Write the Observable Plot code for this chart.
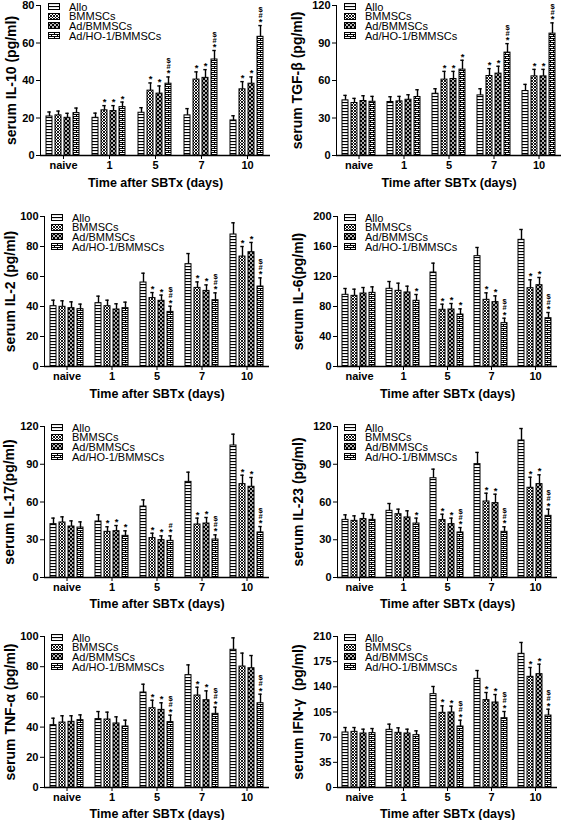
<!DOCTYPE html>
<html><head><meta charset="utf-8">
<script src="https://cdn.jsdelivr.net/npm/d3@7"></script>
<script src="https://cdn.jsdelivr.net/npm/@observablehq/plot@0.6"></script>
<style>
body{margin:0;background:#fff;}
#root{position:relative;width:567px;height:820px;overflow:hidden;font-family:"Liberation Sans",Arial,sans-serif;}
.panel{position:absolute;}
.legend{position:absolute;font-size:11px;color:#000;font-family:"Liberation Sans",Arial,sans-serif;}
.legend .row{display:flex;align-items:center;height:9.6px;white-space:nowrap;}
.legend svg{margin-right:9px;flex:none;}
</style></head><body>
<svg width="0" height="0" style="position:absolute">
<defs>
<pattern id="pAllo" width="3" height="3" patternUnits="userSpaceOnUse"><rect width="3" height="3" fill="#fff"/><rect y="0" width="3" height="1.1" fill="#000"/></pattern>
<pattern id="pBM" width="3" height="3" patternUnits="userSpaceOnUse"><rect width="3" height="3" fill="#fff"/><path d="M0,0L3,3M3,0L0,3" stroke="#000" stroke-width="0.9"/></pattern>
<pattern id="pAd" width="4" height="4" patternUnits="userSpaceOnUse"><rect width="4" height="4" fill="#000"/><circle cx="1" cy="1" r="0.95" fill="#fff"/><circle cx="3" cy="3" r="0.95" fill="#fff"/></pattern>
<pattern id="pHO" width="6" height="4" patternUnits="userSpaceOnUse"><rect width="6" height="4" fill="#fff"/><path d="M0,0.5H6M0,2.5H6M0.5,0.5V2.5M3.5,2.5V4.5" stroke="#000" stroke-width="1"/></pattern>
</defs></svg>
<div id="root"></div>
<script>
// ---- categories ----
const days = ["naive", "1", "5", "7", "10"];
const groups = ["Allo", "BMMSCs", "Ad/BMMSCs", "Ad/HO-1/BMMSCs"];
const xTitle = "Time after SBTx (days)";

// ---- IL-10 ----
const il10Mean = [[20.8,21.4,20.1,22.6],[20.1,24.1,23.7,25.8],[22.8,34.6,33.0,38.3],[21.4,40.5,41.4,51.2],[18.7,35.3,38.3,63.3]];
const il10Err  = [[2.4,2.3,2.4,2.7],[2.5,2.5,2.9,2.7],[2.7,4.1,4.1,3.6],[3.6,4.1,4.4,4.8],[2.5,4.1,3.6,6.0]];
const il10Sig  = [["","","",""],["","*","*","*"],["","*","*","*#$"],["","*","*","*#$"],["","*","*","*#$"]];
const il10Ticks = [0,20,40,60,80];

// ---- TGF-beta ----
const tgfMean = [[44.1,42.0,43.6,43.0],[42.8,43.3,44.6,46.8],[49.4,60.7,61.2,68.7],[48.1,63.6,65.5,82.3],[51.6,63.3,63.3,97.5]];
const tgfErr  = [[4.0,3.7,4.2,4.3],[4.2,4.0,4.0,5.8],[4.0,6.6,6.1,7.5],[5.3,5.9,5.9,7.2],[5.3,5.6,5.6,8.6]];
const tgfSig  = [["","","",""],["","","",""],["","*","*","*"],["","*","*","*#$"],["","*","*","*#$"]];
const tgfTicks = [0,30,60,90,120];

// ---- IL-2 ----
const il2Mean = [[40.2,39.8,38.9,38.2],[42.2,40.2,38.0,38.9],[56.0,45.6,43.8,36.4],[68.2,52.4,50.4,44.2],[88.0,73.3,76.2,53.3]];
const il2Err  = [[4.0,4.0,4.2,3.4],[4.7,4.0,3.8,4.0],[6.2,3.7,3.8,3.8],[7.1,4.0,4.0,4.9],[7.8,6.7,6.5,5.8]];
const il2Sig  = [["","","",""],["","","",""],["","*","*","*#$"],["","*","*","*#$"],["","*","*","*#$"]];
const il2Ticks = [0,20,40,60,80,100];

// ---- IL-6 ----
const il6Mean = [[95.6,94.2,97.3,98.2],[103.6,100.9,98.7,87.6],[125.3,75.6,76.0,69.3],[147.1,88.9,85.8,57.8],[168.9,104.4,108.4,64.4]];
const il6Err  = [[8.4,8.9,8.0,8.0],[9.7,10.2,8.4,8.4],[12.5,7.5,8.0,7.6],[11.6,9.3,8.4,6.6],[13.8,11.2,10.3,7.6]];
const il6Sig  = [["","","",""],["","","","*"],["","*","*","*"],["","*","*","*#$"],["","*","*","*#$"]];
const il6Ticks = [0,40,80,120,160,200];

// ---- IL-17 ----
const il17Mean = [[42.4,43.7,40.5,39.7],[44.5,36.3,36.8,33.1],[56.4,31.3,29.7,29.1],[76.0,42.1,42.9,30.2],[104.9,74.2,72.1,35.8]];
const il17Err  = [[4.8,4.5,4.5,4.5],[5.3,4.0,4.5,4.0],[5.3,3.9,3.4,4.0],[7.7,5.1,4.8,3.7],[9.0,7.1,7.4,4.7]];
const il17Sig  = [["","","",""],["","*","*","*"],["","*","*","*#"],["","*","*","*#$"],["","*","*","*#$"]];
const il17Ticks = [0,30,60,90,120];

// ---- IL-23 ----
const il23Mean = [[45.8,45.0,46.4,45.8],[53.0,50.3,47.7,42.9],[78.9,45.6,42.4,35.8],[90.1,60.4,59.1,36.3],[108.9,71.3,74.2,49.0]];
const il23Err  = [[4.0,4.0,4.5,4.2],[5.8,4.0,5.3,4.3],[7.2,4.7,4.8,3.9],[9.3,6.6,7.1,4.0],[9.5,8.4,7.4,5.3]];
const il23Sig  = [["","","",""],["","","","*"],["","*","*","*#$"],["","*","*","*#$"],["","*","*","*#$"]];
const il23Ticks = [0,30,60,90,120];

// ---- TNF-alpha ----
const tnfMean = [[41.3,43.0,43.5,44.6],[45.3,45.0,42.4,40.4],[62.9,52.5,51.4,43.3],[74.4,60.9,57.8,48.8],[91.2,80.1,79.0,55.8]];
const tnfErr  = [[4.6,4.5,4.0,3.5],[5.0,4.9,4.4,4.2],[5.5,5.3,4.7,4.6],[6.8,5.5,6.2,4.4],[7.9,8.9,8.4,6.0]];
const tnfSig  = [["","","",""],["","","",""],["","*","*","*#$"],["","*","*","*#$"],["","","","*#$"]];
const tnfTicks = [0,20,40,60,80,100];

// ---- IFN-gamma ----
const ifnMean = [[76.5,77.4,75.1,75.6],[80.2,76.0,75.1,72.8],[129.8,103.8,104.3,84.8],[151.1,121.5,118.2,96.4],[185.9,153.9,157.6,100.1]];
const ifnErr  = [[6.9,6.0,6.0,6.4],[7.9,7.0,6.0,6.0],[10.7,9.8,8.8,8.8],[11.6,10.6,11.1,9.3],[15.8,13.0,13.9,8.8]];
const ifnSig  = [["","","",""],["","","",""],["","*","*","*#$"],["","*","*","*#$"],["","*","*","*#$"]];
const ifnTicks = [0,35,70,105,140,175,210];

// ---- fills per group ----
const fills = {"Allo":"url(#pAllo)","BMMSCs":"url(#pBM)","Ad/BMMSCs":"url(#pAd)","Ad/HO-1/BMMSCs":"url(#pHO)"};

// ---- panel layout ----
const panels = [
  {mean:il10Mean, err:il10Err, sig:il10Sig, ticks:il10Ticks, label:"serum IL-10 (pg/ml)", left:0, top:0, w:283, h:200, ml:39, mr:12, mt:5, mb:45, lo:34, xo:31},
  {mean:tgfMean, err:tgfErr, sig:tgfSig, ticks:tgfTicks, label:"serum TGF-β (pg/ml)", left:285, top:0, w:282, h:200, ml:50, mr:5, mt:5, mb:45, lo:44, xo:31},
  {mean:il2Mean, err:il2Err, sig:il2Sig, ticks:il2Ticks, label:"serum IL-2 (pg/ml)", left:0, top:200, w:283, h:210, ml:42, mr:13, mt:16, mb:44, lo:39, xo:31},
  {mean:il6Mean, err:il6Err, sig:il6Sig, ticks:il6Ticks, label:"serum IL-6(pg/ml)", left:285, top:200, w:282, h:210, ml:50, mr:9, mt:16, mb:44, lo:44, xo:31},
  {mean:il17Mean, err:il17Err, sig:il17Sig, ticks:il17Ticks, label:"serum IL-17(pg/ml)", left:0, top:410, w:283, h:210, ml:42, mr:13, mt:16, mb:43, lo:40, xo:30},
  {mean:il23Mean, err:il23Err, sig:il23Sig, ticks:il23Ticks, label:"serum IL-23 (pg/ml)", left:285, top:410, w:282, h:210, ml:50, mr:9, mt:16, mb:43, lo:44, xo:30},
  {mean:tnfMean, err:tnfErr, sig:tnfSig, ticks:tnfTicks, label:"serum TNF-α (pg/ml)", left:0, top:620, w:283, h:200, ml:42, mr:13, mt:16, mb:33, lo:39, xo:30},
  {mean:ifnMean, err:ifnErr, sig:ifnSig, ticks:ifnTicks, label:"serum IFN-γ  (pg/ml)", left:285, top:620, w:282, h:200, ml:50, mr:9, mt:16, mb:33, lo:44, xo:30}
];

const root = document.getElementById("root");

function makePanel(p) {
  const data = [];
  days.forEach((d, i) => groups.forEach((g, j) => data.push({day: d, group: g, value: p.mean[i][j], err: p.err[i][j], sig: p.sig[i][j]})));
  const ymax = p.ticks[p.ticks.length - 1];
  const top = d => d.value + d.err;
  const sigDy = [-0.5, -8, -14];
  const sigMark = (k) => Plot.text(data.filter(d => d.sig.length > k), {
    fx: "day", x: "group", y: top, text: d => d.sig[k],
    lineAnchor: "bottom", dy: sigDy[k], fontSize: k === 0 ? 9.5 : 7.5, fill: "#000"
  });
  const chart = Plot.plot({
    width: p.w, height: p.h,
    marginLeft: p.ml, marginRight: p.mr, marginTop: p.mt, marginBottom: p.mb,
    style: {fontFamily: '"Liberation Sans", Arial, sans-serif', fontSize: "11px", fontWeight: "bold", color: "#000", background: "transparent", overflow: "visible"},
    fx: {domain: days, padding: 0, label: xTitle, labelAnchor: "center", labelOffset: p.xo, tickSize: 4, tickPadding: 2},
    x: {domain: groups, paddingInner: 0.3, paddingOuter: 0.475, axis: null},
    y: {domain: [0, ymax], ticks: p.ticks, tickSize: 4, tickPadding: 2, label: p.label, labelAnchor: "center", labelOffset: p.lo, labelArrow: "none", line: true},
    color: {type: "identity"},
    marks: [
      Plot.barY(data, {fx: "day", x: "group", y: "value", fill: d => fills[d.group], stroke: "#000", strokeWidth: 1}),
      Plot.ruleX(data, {fx: "day", x: "group", y1: "value", y2: top, stroke: "#000", strokeWidth: 1.4}),
      Plot.tickY(data, {fx: "day", x: "group", y: top, insetLeft: 1.3, insetRight: 1.3, stroke: "#000", strokeWidth: 1.4}),
      sigMark(0), sigMark(1), sigMark(2),
      Plot.ruleY([0], {stroke: "#000", strokeWidth: 1.6})
    ]
  });
  chart.querySelectorAll('[aria-label="y-axis label"] text, [aria-label="y-axis label"]').forEach(t => { t.style.fontSize = "14px"; });
  chart.querySelectorAll('[aria-label="fx-axis label"] text, [aria-label="fx-axis label"]').forEach(t => { t.style.fontSize = "12.5px"; });
  const div = document.createElement("div");
  div.className = "panel";
  div.style.left = p.left + "px";
  div.style.top = p.top + "px";
  div.appendChild(chart);
  root.appendChild(div);

  // legend inside the plot area, top-left
  const lg = document.createElement("div");
  lg.className = "legend";
  lg.style.left = (p.left + p.ml + 9) + "px";
  lg.style.top = (p.top + p.mt - 3) + "px";
  groups.forEach(g => {
    const row = document.createElement("div");
    row.className = "row";
    row.innerHTML = `<svg width="12" height="7"><rect x="0.5" y="0.5" width="11" height="6" fill="${fills[g]}" stroke="#000" stroke-width="1"/></svg><span>${g}</span>`;
    lg.appendChild(row);
  });
  root.appendChild(lg);
}

panels.forEach(makePanel);
</script>
</body></html>
